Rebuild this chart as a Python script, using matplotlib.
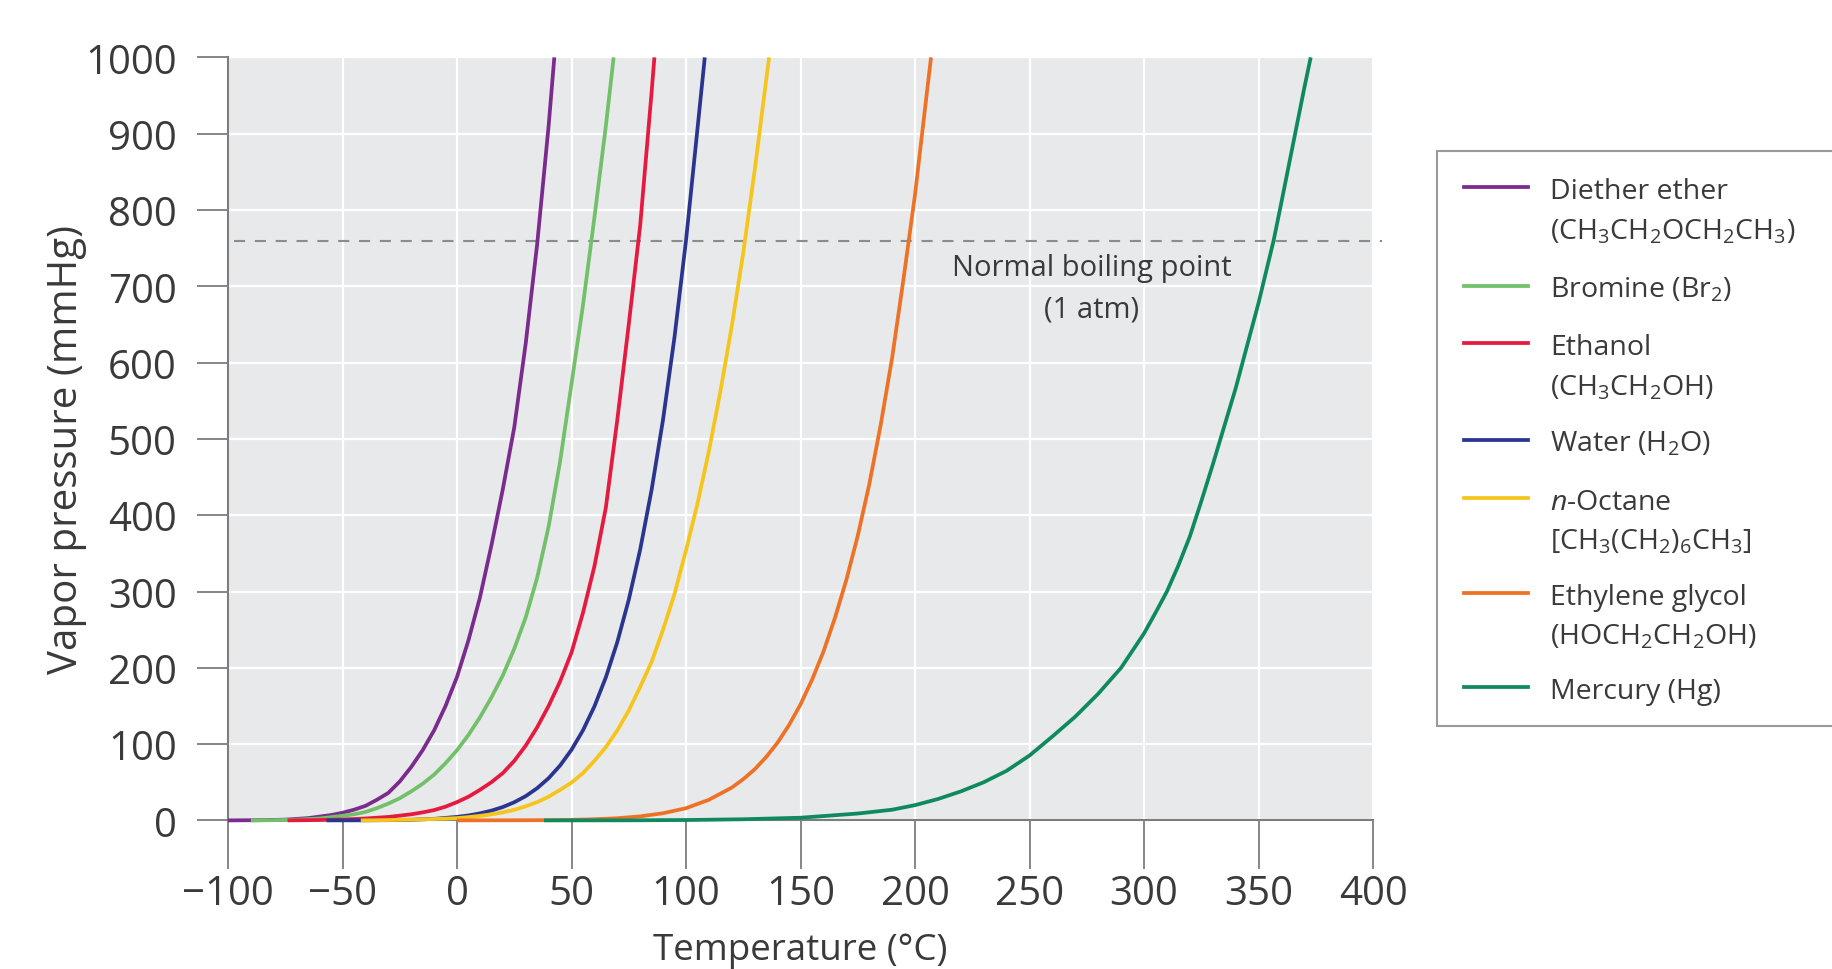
import matplotlib
matplotlib.use("Agg")
import matplotlib.pyplot as plt
from matplotlib.patches import Rectangle
from matplotlib.lines import Line2D

plt.rcParams['font.family'] = ['Open Sans', 'DejaVu Sans']
plt.rcParams['mathtext.fontset'] = 'custom'
plt.rcParams['mathtext.rm'] = 'Open Sans'
plt.rcParams['mathtext.it'] = 'Open Sans:italic'
plt.rcParams['lines.scale_dashes'] = False

# ---------------- data ----------------
ether_T = [-100, -85, -75, -70, -65, -60, -55, -50, -45, -40, -35, -30, -25, -20, -15, -10, -5,
           0, 5, 10, 15, 20, 25, 30, 35, 40, 42.5]
ether_P = [0, 0.3, 1, 2, 3, 5, 7, 10, 14, 19, 27, 36, 51, 70, 92, 118, 150,
           188, 236, 292, 360, 434, 515, 625, 755, 910, 1000]

bromine_T = [-90, -80, -70, -60, -50, -45, -40, -35, -30, -25, -20, -15, -10, -5, 0, 5, 10, 15,
             20, 25, 30, 35, 40, 45, 50, 55, 60, 65, 68.4]
bromine_P = [0, 0.3, 1, 2.5, 6, 8, 11, 16, 22, 29, 38, 48, 60, 75, 92, 112, 135, 161,
             190, 225, 266, 318, 385, 470, 572, 675, 790, 910, 1000]

ethanol_T = [-74, -60, -50, -40, -30, -20, -15, -10, -5, 0, 5, 10, 15, 20, 25, 30, 35, 40, 45,
             50, 55, 60, 65, 70, 75, 80, 85, 86.2]
ethanol_P = [0, 0.5, 1.2, 2.5, 4.5, 8, 10.5, 13.5, 18, 24, 31, 40, 50, 62, 78, 98, 122, 150, 182,
             220, 272, 333, 410, 525, 650, 780, 955, 1000]

water_T = [-57, -40, -30, -20, -10, 0, 5, 10, 15, 20, 25, 30, 35, 40, 45, 50, 55, 60, 65, 70,
           75, 80, 85, 90, 95, 100, 105, 108.2]
water_P = [0, 0.1, 0.3, 0.8, 2, 4.6, 6.5, 9.2, 12.8, 17.5, 23.8, 31.8, 42.2, 55.3, 71.9, 92.5,
           118, 149.4, 187.5, 233.7, 289.1, 355.1, 433.6, 525.8, 633.9, 760, 906, 1000]

octane_T = [-42, -30, -20, -10, 0, 5, 10, 15, 20, 25, 30, 35, 40, 45, 50, 55, 60, 65, 70, 75,
            80, 85, 90, 95, 100, 105, 110, 115, 120, 125, 130, 135, 136.3]
octane_P = [0, 0.5, 1, 1.8, 3, 4.3, 5.9, 8, 10.5, 13.9, 18.4, 24, 31, 40, 49.5, 62, 78, 96, 118,
            144, 175, 208, 250, 297, 354, 415, 484, 562, 648, 744, 852, 970, 1000]

glycol_T = [0, 20, 40, 50, 60, 70, 80, 90, 100, 110, 120, 125, 130, 135, 140, 145, 150, 155,
            160, 165, 170, 175, 180, 185, 190, 195, 200, 205, 207]
glycol_P = [0, 0.1, 0.3, 0.7, 1.5, 2.8, 5.3, 9.4, 16, 27, 43, 54, 67, 83, 102, 125, 152, 184,
            221, 265, 315, 373, 440, 518, 606, 710, 820, 949, 1000]

mercury_T = [38, 75, 100, 125, 150, 175, 190, 200, 210, 220, 230, 240, 250, 260, 270, 280, 290,
             300, 305, 310, 315, 320, 325, 330, 340, 350, 356.6, 360, 365, 370, 372.8]
mercury_P = [0, 0.1, 0.5, 1.5, 3.5, 9, 14, 20, 28, 38, 50, 65, 85, 110, 136, 166, 200,
             245, 272, 300, 334, 372, 418, 466, 566, 678, 760, 810, 885, 960, 1000]

series_T = [ether_T, bromine_T, ethanol_T, water_T, octane_T, glycol_T, mercury_T]
series_P = [ether_P, bromine_P, ethanol_P, water_P, octane_P, glycol_P, mercury_P]

names = ["Diether ether", "Bromine (Br$_2$)", "Ethanol", "Water (H$_2$O)",
         "$\\mathit{n}$-Octane", "Ethylene glycol", "Mercury (Hg)"]
formulas = ["(CH$_3$CH$_2$OCH$_2$CH$_3$)", None, "(CH$_3$CH$_2$OH)", None,
            "[CH$_3$(CH$_2$)$_6$CH$_3$]", "(HOCH$_2$CH$_2$OH)", None]
colors = ["#7B2A8E", "#72C06A", "#E6193F", "#2A3590", "#F6C51C", "#EE7226", "#0F8A5E"]

x_ticks = [-100, -50, 0, 50, 100, 150, 200, 250, 300, 350, 400]
y_ticks = [0, 100, 200, 300, 400, 500, 600, 700, 800, 900, 1000]
boiling_P = 760

# ---------------- figure ----------------
W, H = 1832, 970
fig = plt.figure(figsize=(W / 100, H / 100), dpi=100)
L, R, T, B = 228, 1373, 58.4, 821.4
ax = fig.add_axes([L / W, 1 - B / H, (R - L) / W, (B - T) / H])
ax.set_facecolor("#E8E9EB")
ax.set_xlim(-100, 400)
ax.set_ylim(0, 1000)

for s in ["top", "right"]:
    ax.spines[s].set_visible(False)
for s in ["left", "bottom"]:
    ax.spines[s].set_color("#7d7d7d")
    ax.spines[s].set_linewidth(1.5)

ax.set_xticks(x_ticks)
ax.set_yticks(y_ticks)
ax.set_xticklabels([("\u2212" + str(-v)) if v < 0 else str(v) for v in x_ticks])
ax.tick_params(axis="x", length=35, width=1.3, color="#7d7d7d", pad=3,
               labelsize=29, labelcolor="#3a3a3a")
ax.tick_params(axis="y", length=22, width=1.3, color="#7d7d7d", pad=15,
               labelsize=29, labelcolor="#3a3a3a")
ax.grid(True, color="white", linewidth=1.6)
ax.set_axisbelow(True)

ax.set_xlabel("Temperature (°C)", fontsize=26.5, color="#3a3a3a", va="center")
ax.xaxis.set_label_coords(0.5, -(951 - B) / (B - T))
ax.set_ylabel("Vapor pressure (mmHg)", fontsize=29, color="#3a3a3a", va="center")
ax.yaxis.set_label_coords((67 - L) / (R - L), (B - 450) / (B - T))

# boiling line
ax.plot([-97.4, 404], [boiling_P, boiling_P], color="#8c8c8c", lw=1.5,
        dashes=(8, 7), clip_on=False, zorder=2)
ax.text(277, 724, "Normal boiling point", ha="center", va="center",
        fontsize=21, color="#3a3a3a")
ax.text(277, 670, "(1 atm)", ha="center", va="center", fontsize=21, color="#3a3a3a")

for i, (tt, pp) in enumerate(zip(series_T, series_P)):
    ax.plot(tt, pp, color=colors[i], lw=2.7, clip_on=False, zorder=5 + i,
            solid_capstyle="butt", solid_joinstyle="round")

# ---------------- manual legend ----------------
def fx(x):
    return x / W

def fy(y):
    return 1 - y / H

fig.add_artist(Rectangle((fx(1437), fy(727)), fx(1845) - fx(1437), fy(152) - fy(727),
                         transform=fig.transFigure, facecolor="white",
                         edgecolor="#9a9a9a", lw=1.5, zorder=1))
handle_y = [188, 287, 344, 441, 499, 594, 688]
for i in range(len(names)):
    y = handle_y[i]
    fig.add_artist(Line2D([fx(1464), fx(1528)], [fy(y), fy(y)], color=colors[i],
                          lw=2.7, transform=fig.transFigure, zorder=3))
    fig.text(fx(1550), fy(y + 11), names[i], ha="left", va="baseline",
             fontsize=20.5, color="#3a3a3a", zorder=3)
    if formulas[i]:
        fig.text(fx(1550), fy(y + 51), formulas[i], ha="left", va="baseline",
                 fontsize=20.5, color="#3a3a3a", zorder=3)

fig.savefig("out.png", dpi=100)
